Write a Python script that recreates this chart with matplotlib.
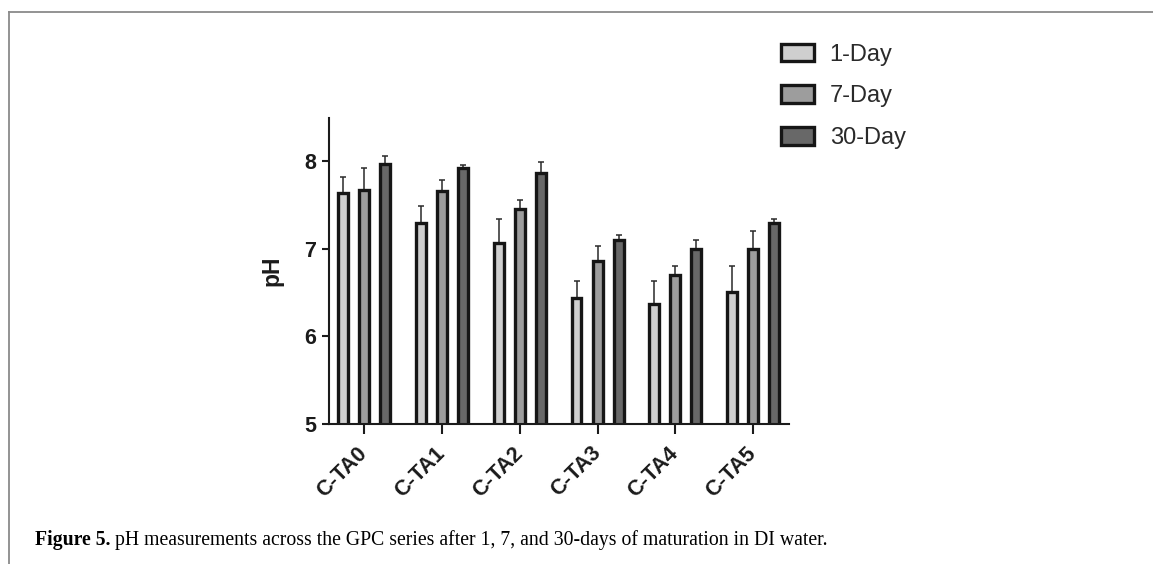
import numpy as np
import matplotlib
matplotlib.use("Agg")
import matplotlib.pyplot as plt
from matplotlib.lines import Line2D
from matplotlib.patches import Patch

categories = ["C-TA0", "C-TA1", "C-TA2", "C-TA3", "C-TA4", "C-TA5"]
series_names = ["1-Day", "7-Day", "30-Day"]
day1 = [7.63, 7.29, 7.06, 6.44, 6.37, 6.50]
day1_err = [0.19, 0.20, 0.28, 0.19, 0.26, 0.30]
day7 = [7.67, 7.66, 7.45, 6.86, 6.70, 7.00]
day7_err = [0.25, 0.12, 0.11, 0.17, 0.10, 0.20]
day30 = [7.97, 7.92, 7.86, 7.10, 7.00, 7.29]
day30_err = [0.09, 0.03, 0.13, 0.06, 0.10, 0.05]
y_ticks = [5, 6, 7, 8]
caption_bold = "Figure 5."
caption_rest = " pH measurements across the GPC series after 1, 7, and 30-days of maturation in DI water."

plt.rcParams['font.family'] = ['Liberation Sans', 'DejaVu Sans']

W, H = 1153, 564
fig = plt.figure(figsize=(W / 100, H / 100), dpi=100)
ax = fig.add_axes([329 / W, 1 - 424 / H, (789 - 329) / W, (424 - 118) / H])

fills = ["#cfcfcf", "#9d9d9d", "#686868"]
edge = "#161616"
offsets = [-0.27, 0.0, 0.27]
width = 0.128
x = np.arange(len(categories))
handles = []
for vals, errs, off, fc, name in zip([day1, day7, day30], [day1_err, day7_err, day30_err],
                                     offsets, fills, series_names):
    ax.errorbar(x + off, vals, yerr=[np.zeros(len(vals)), errs], fmt="none",
                ecolor="#2a2a2a", elinewidth=1.1, capsize=2.5, capthick=1.1, zorder=1)
    ax.bar(x + off, vals, width=width, bottom=0, color=fc, edgecolor=edge,
           linewidth=2.4, zorder=2)
    handles.append(Patch(facecolor=fc, edgecolor=edge, linewidth=2.4, label=name))

ax.set_ylim(5, 8.49)
ax.set_xlim(-0.45, 5.46)
ax.set_yticks(y_ticks)
ax.set_yticklabels([str(t) for t in y_ticks])
ax.set_xticks(x)
ax.set_xticklabels(categories, rotation=45, ha="right", va="center",
                   rotation_mode="anchor")
for s in ["top", "right"]:
    ax.spines[s].set_visible(False)
for s in ["left", "bottom"]:
    ax.spines[s].set_linewidth(1.5)
    ax.spines[s].set_color("#1b1b1b")
ax.tick_params(axis="y", length=5, width=1.5, pad=4, labelsize=15.5, colors="#1b1b1b")
ax.tick_params(axis="x", length=7.2, width=1.5, pad=11.5, labelsize=15.5, colors="#1b1b1b")
for lab in ax.get_yticklabels() + ax.get_xticklabels():
    lab.set_fontweight("bold")
ax.set_ylabel("pH", fontsize=16.5, fontweight="bold", color="#1b1b1b")
ax.yaxis.set_label_coords(-0.099, 0.5)

leg = fig.legend(handles=handles, loc="upper left",
                 bbox_to_anchor=(780.5 / W, 1 - 43.5 / H), bbox_transform=fig.transFigure,
                 frameon=False, fontsize=17, handlelength=1.4, handleheight=0.76,
                 handletextpad=0.68, labelspacing=0.84, borderpad=0, borderaxespad=0)
for t in leg.get_texts():
    t.set_color("#2a2a2a")

# frame lines
fig.add_artist(Line2D([8.5 / W, 8.5 / W], [0, 1 - 12 / H], transform=fig.transFigure,
                      color="#8a8a8a", linewidth=1.3))
fig.add_artist(Line2D([8.5 / W, 1], [1 - 12 / H, 1 - 12 / H], transform=fig.transFigure,
                      color="#8a8a8a", linewidth=1.3))

# caption
fig.canvas.draw()
r = fig.canvas.get_renderer()
fs = 14
base_y = 1 - 545.5 / H
t1 = fig.text(35 / W, base_y, caption_bold, fontsize=fs, fontweight="bold",
              family=["Liberation Serif", "DejaVu Serif"], va="baseline")
t2 = fig.text(0, base_y, caption_rest, fontsize=fs,
              family=["Liberation Serif", "DejaVu Serif"], va="baseline")
w1 = t1.get_window_extent(r).width
w2 = t2.get_window_extent(r).width
scale = (830 - 35) / (w1 + w2)
fs2 = fs * scale
t1.set_fontsize(fs2)
t2.set_fontsize(fs2)
w1 = t1.get_window_extent(r).width
t2.set_x((35 + w1) / W)

fig.savefig("out.png", dpi=100)
